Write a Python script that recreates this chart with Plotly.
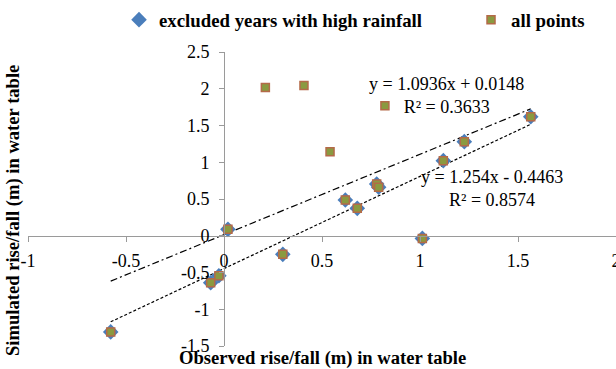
import plotly.graph_objects as go

# ---- data ----
excl_x = [-0.578, -0.068, -0.026, 0.02, 0.30, 0.619, 0.68, 0.779, 0.789, 1.012, 1.119, 1.226, 1.565]
excl_y = [-1.308, -0.64, -0.545, 0.087, -0.253, 0.486, 0.373, 0.704, 0.66, -0.036, 1.022, 1.28, 1.62]

extra_x = [0.211, 0.408, 0.541, 0.821]
extra_y = [2.016, 2.044, 1.144, 1.77]

all_x = excl_x + extra_x
all_y = excl_y + extra_y

# trendline equations shown on the chart
all_slope, all_icpt, all_r2 = 1.0936, 0.0148, 0.3633
excl_slope, excl_icpt, excl_r2 = 1.254, -0.4463, 0.8574

x_ticks = [-1, -0.5, 0, 0.5, 1, 1.5, 2]
x_tick_labels = ["-1", "-0.5", "0", "0.5", "1", "1.5", "2"]
y_ticks = [-1.5, -1, -0.5, 0, 0.5, 1, 1.5, 2, 2.5]
y_tick_labels = ["-1.5", "-1", "-0.5", "0", "0.5", "1", "1.5", "2", "2.5"]

FONT = "Liberation Serif, Times New Roman, serif"

fig = go.Figure()

# trendlines
ax0, ax1 = min(all_x), max(all_x)
fig.add_trace(go.Scatter(
    x=[ax0, ax1], y=[all_slope * ax0 + all_icpt, all_slope * ax1 + all_icpt],
    mode="lines", line=dict(color="black", width=1.2, dash="7px,3px,2px,3px"),
    showlegend=False, hoverinfo="skip"))
ex0, ex1 = min(excl_x), max(excl_x)
fig.add_trace(go.Scatter(
    x=[ex0, ex1], y=[excl_slope * ex0 + excl_icpt, excl_slope * ex1 + excl_icpt],
    mode="lines", line=dict(color="black", width=1.2, dash="3px,2px"),
    showlegend=False, hoverinfo="skip"))

fig.add_trace(go.Scatter(
    x=excl_x, y=excl_y, mode="markers", name="excluded years with high rainfall",
    legendwidth=307,
    marker=dict(symbol="diamond", size=12, color="#4a7ebb",
                line=dict(color="#4a7ebb", width=0))))
fig.add_trace(go.Scatter(
    x=all_x, y=all_y, mode="markers", name="all points",
    marker=dict(symbol="square", size=8, color="#8a9a40",
                line=dict(color="#b46a48", width=1.5))))

fig.add_annotation(
    x=1.136, y=1.906, xref="x", yref="y", showarrow=False,
    xanchor="center", yanchor="middle",
    text=f"y = {all_slope}x + {all_icpt}<br>R² = {all_r2}",
    font=dict(family=FONT, size=18, color="black"), align="center")
fig.add_annotation(
    x=1.365, y=0.646, xref="x", yref="y", showarrow=False,
    xanchor="center", yanchor="middle",
    text=f"y = {excl_slope}x - {abs(excl_icpt)}<br>R² = {excl_r2}",
    font=dict(family=FONT, size=18, color="black"), align="center")

# axis titles
fig.add_annotation(
    x=0.5, y=-0.041, xref="paper", yref="paper", showarrow=False,
    xanchor="center", yanchor="middle",
    text="<b>Observed rise/fall (m) in water table</b>",
    font=dict(family=FONT, size=18.6, color="black"))
fig.add_annotation(
    x=-0.0255, y=0.459, xref="paper", yref="paper", showarrow=False, textangle=-90,
    xanchor="center", yanchor="middle",
    text="<b>Simulated rise/fall (m) in water table</b>",
    font=dict(family=FONT, size=18.6, color="black"))

axis_common = dict(showgrid=False, zeroline=False, showline=True,
                   linecolor="#9a9a9a", linewidth=1, ticks="outside",
                   ticklen=5, tickcolor="#9a9a9a", ticklabeloverflow="allow",
                   tickfont=dict(family=FONT, size=18, color="black"))

fig.update_xaxes(range=[-1, 2], tickvals=x_ticks, ticktext=x_tick_labels,
                 anchor="free", position=0.375, domain=[0, 1],
                 ticklabelstandoff=4, **axis_common)
fig.update_yaxes(range=[-1.5, 2.5], tickvals=y_ticks, ticktext=y_tick_labels,
                 anchor="free", position=1 / 3, domain=[0, 1],
                 ticklabelstandoff=6, **axis_common)

fig.update_layout(
    width=616, height=369,
    margin=dict(l=28, r=0, t=52, b=23, autoexpand=False),
    paper_bgcolor="white", plot_bgcolor="white",
    font=dict(family=FONT, color="black"),
    legend=dict(orientation="h", x=0.1548, xanchor="left", y=1.109, yanchor="middle",
                font=dict(family=FONT, size=18.8, color="black", weight="bold"),
                bgcolor="rgba(0,0,0,0)"),
)

fig.write_html("out.html")
